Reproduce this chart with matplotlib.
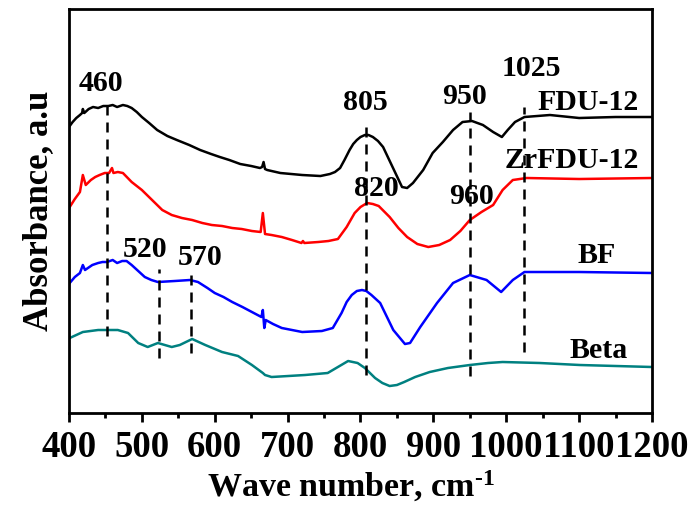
import matplotlib
matplotlib.use('Agg')
import matplotlib.pyplot as plt
from matplotlib.ticker import MultipleLocator

plt.rcParams['font.family'] = ['Liberation Serif', 'DejaVu Serif']
plt.rcParams['font.weight'] = 'bold'
plt.rcParams['mathtext.fontset'] = 'custom'
plt.rcParams['mathtext.rm'] = 'Liberation Serif:bold'
plt.rcParams['mathtext.it'] = 'Liberation Serif:bold'
plt.rcParams['mathtext.bf'] = 'Liberation Serif:bold'

# spectra (wave number in cm-1, absorbance in a.u., traces offset)
fdu_wn = [400, 405, 410, 415, 418, 419, 421, 427, 433, 440, 447, 454, 460, 466, 474, 480, 486, 493,
          500, 510, 521, 535, 548, 565, 580, 595, 607, 620, 635, 650, 662, 665, 667, 669, 672, 690,
          705, 720, 745, 758, 765, 772, 778, 785, 790, 795, 800, 806, 811, 817, 824, 831, 844, 857,
          864, 872, 886, 899, 913, 927, 940, 953, 968, 982, 994, 1002, 1012, 1025, 1060, 1100, 1150,
          1200]
fdu_abs = [286, 291, 295, 298, 300, 304, 300, 304, 306, 305, 307, 307, 308, 306, 308, 307, 305, 301,
           296, 290, 283, 277, 273, 268, 263, 259, 256, 253, 249, 247, 245, 246, 251, 244, 243, 240,
           239, 238, 237, 239, 241, 245, 253, 263, 269, 273, 276, 278, 278, 276, 272, 266, 246, 226,
           225, 230, 243, 260, 271, 283, 291, 292, 288, 281, 276, 283, 291, 296, 298, 295, 296,
           296]

zr_wn = [401, 408, 415, 419, 423, 430, 436, 442, 449, 455, 459, 461, 467, 474, 486, 500, 514, 528,
         541, 555, 569, 583, 596, 610, 624, 637, 651, 663, 666, 669, 678, 692, 706, 719, 721, 723,
         742, 756, 769, 781, 792, 800, 809, 817, 825, 840, 852, 864, 878, 893, 908, 923, 937, 950,
         966, 982, 995, 1009, 1028, 1100, 1200]
zr_abs = [206, 214, 221, 238, 228, 233, 236, 238, 240, 240, 245, 240, 241, 240, 231, 223, 213, 203,
          198, 195, 193, 190, 188, 187, 185, 184, 182, 181, 200, 179, 178, 176, 173, 170, 172, 170,
          171, 172, 174, 186, 200, 206, 210, 209, 207, 196, 185, 176, 169, 166, 168, 173, 182, 193,
          201, 208, 223, 233, 235, 234, 235]

bf_wn = [401, 408, 415, 419, 422, 432, 440, 446, 452, 460, 466, 473, 479, 486, 495, 504, 513, 522,
         545, 566, 577, 590, 600, 612, 624, 638, 651, 664, 666, 668, 670, 680, 692, 720, 747, 762,
         774, 781, 788, 795, 802, 808, 815, 827, 845, 861, 868, 882, 905, 927, 950, 973, 993, 1009,
         1025, 1100, 1200]
bf_abs = [130, 136, 140, 148, 143, 148, 150, 151, 151, 153, 150, 152, 152, 148, 142, 136, 133, 131,
          132, 133, 131, 125, 120, 116, 111, 106, 101, 96, 103, 85, 93, 89, 85, 81, 82, 85,
          100, 111, 118, 122, 123, 122, 118, 110, 83, 69, 70, 86, 110, 130, 138, 133, 121, 133,
          141, 141, 140]

beta_wn = [401, 419, 440, 467, 481, 495, 508, 522, 541, 552, 569, 587, 610, 632, 651, 666, 669, 678,
           724, 755, 769, 783, 796, 806, 820, 830, 840, 850, 860, 875, 895, 920, 950, 975, 995, 1046,
           1101, 1200]
beta_abs = [75, 81, 83, 83, 80, 70, 66, 70, 66, 68, 74, 68, 61, 57, 48, 40, 38, 36,
            38, 40, 46, 52, 50, 45, 35, 30, 27, 28, 31, 36, 41, 45, 48, 50, 51, 50,
            48, 46]

# marked bands: label, line position, line span, label position
band_labels = ['460', '520', '570', '805', '950', '1025', '820', '960']
band_pos = [452, 524, 568, 807, 950, 1025, None, None]
band_lo = [77, 55, 60, 38, 37, 61, None, None]
band_hi = [313, 144, 142, 290, 301, 306, None, None]
label_x = [444, 504, 580, 807, 943, 1035, 822, 953]
label_y = [330, 164, 156, 311, 317, 345, 225, 217]

names = ['FDU-12', 'ZrFDU-12', 'BF', 'Beta']
name_x = [1112, 1090, 1124, 1127]
name_y = [311, 253, 158, 63]

fig = plt.figure(figsize=(6.92, 5.09), dpi=100)
ax = fig.add_axes([0.0997, 0.1886, 0.8425, 0.7937])

ax.plot(fdu_wn, fdu_abs, color='black', lw=1.8)
ax.plot(zr_wn, zr_abs, color='#ff0000', lw=1.8)
ax.plot(bf_wn, bf_abs, color='#0000ff', lw=1.8)
ax.plot(beta_wn, beta_abs, color='#008080', lw=1.8)

for pos, lo, hi in zip(band_pos, band_lo, band_hi):
    if pos is None:
        continue
    ax.plot([pos, pos], [lo, hi], color='black', lw=1.8, dashes=(4, 2.8))

for lab, x, y in zip(band_labels, label_x, label_y):
    ax.text(x, y, lab, fontsize=21.5, fontweight='bold', ha='center', va='center')

for lab, x, y in zip(names, name_x, name_y):
    ax.text(x, y, lab, fontsize=21.5, fontweight='bold', ha='center', va='center')

ax.set_xlim(400, 1200)
ax.set_ylim(0, 404)
ax.xaxis.set_major_locator(MultipleLocator(100))
ax.xaxis.set_minor_locator(MultipleLocator(50))
ax.tick_params(axis='x', which='major', direction='out', length=6.5, width=2, labelsize=26.5, pad=6)
ax.tick_params(axis='x', which='minor', direction='out', length=3.5, width=2)
ax.set_yticks([])
for sp in ax.spines.values():
    sp.set_linewidth(2)

ax.set_xlabel(r'Wave number, cm$^{\text{-1}}$', fontsize=24.5, fontweight='bold')
ax.xaxis.set_label_coords(0.484, -0.208, transform=ax.transAxes)
ax.xaxis.label.set_va('baseline')
ax.set_ylabel('Absorbance, a.u', fontsize=25, fontweight='bold', labelpad=10)

fig.savefig('out.png', dpi=100)
